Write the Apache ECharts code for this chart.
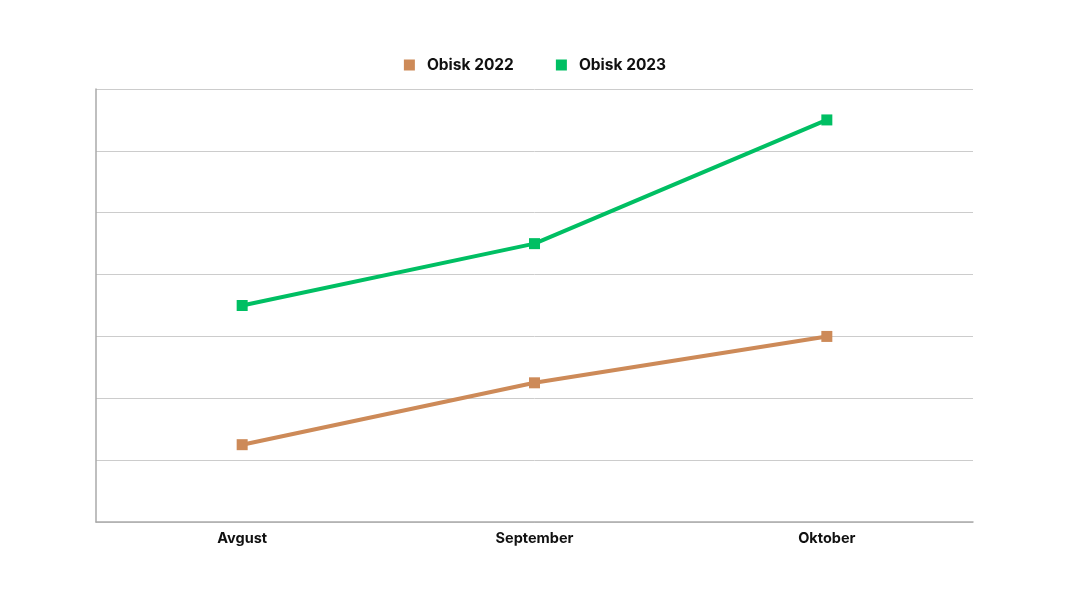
<!DOCTYPE html>
<html><head><meta charset="utf-8">
<script src="https://cdn.jsdelivr.net/npm/echarts@6/dist/echarts.min.js"></script>
<style>html,body{margin:0;padding:0;background:#fff}#c{width:1070px;height:600px}</style>
</head><body><div id="c"></div>
<script>
const categories = ['Avgust', 'September', 'Oktober'];
const obisk2022 = [1.25, 2.25, 3.0];
const obisk2023 = [3.5, 4.5, 6.5];

const chart = echarts.init(document.getElementById('c'), null, {renderer: 'canvas'});
const font = 'Inter, Lato, sans-serif';
chart.setOption({
  animation: false,
  legend: {
    top: 52, left: 'center', itemWidth: 11, itemHeight: 11, itemGap: 42,
    icon: 'rect',
    textStyle: {fontFamily: font, fontWeight: 'bold', fontSize: 15.5, color: '#111', padding: [0, 0, 0, 7]},
    data: ['Obisk 2022', 'Obisk 2023']
  },
  grid: {left: 96, right: 97, top: 89, bottom: 78},
  xAxis: {
    type: 'category', data: categories, boundaryGap: true,
    axisLine: {lineStyle: {color: '#aaa', width: 1.5}},
    axisTick: {show: false},
    axisLabel: {fontFamily: font, fontWeight: 'bold', fontSize: 14.5, color: '#111', margin: 9}
  },
  yAxis: {
    type: 'value', min: 0, max: 7, interval: 1,
    axisLine: {show: true, lineStyle: {color: '#aaa', width: 1.5}},
    axisTick: {show: false},
    axisLabel: {show: false},
    splitLine: {lineStyle: {color: '#ccc', width: 1}}
  },
  series: [
    {name: 'Obisk 2022', type: 'line', data: obisk2022, symbol: 'rect', symbolSize: 11,
     itemStyle: {color: '#CD8A58'}, lineStyle: {width: 4, color: '#CD8A58'}},
    {name: 'Obisk 2023', type: 'line', data: obisk2023, symbol: 'rect', symbolSize: 11,
     itemStyle: {color: '#00BF63'}, lineStyle: {width: 4, color: '#00BF63'}}
  ]
});
</script></body></html>
